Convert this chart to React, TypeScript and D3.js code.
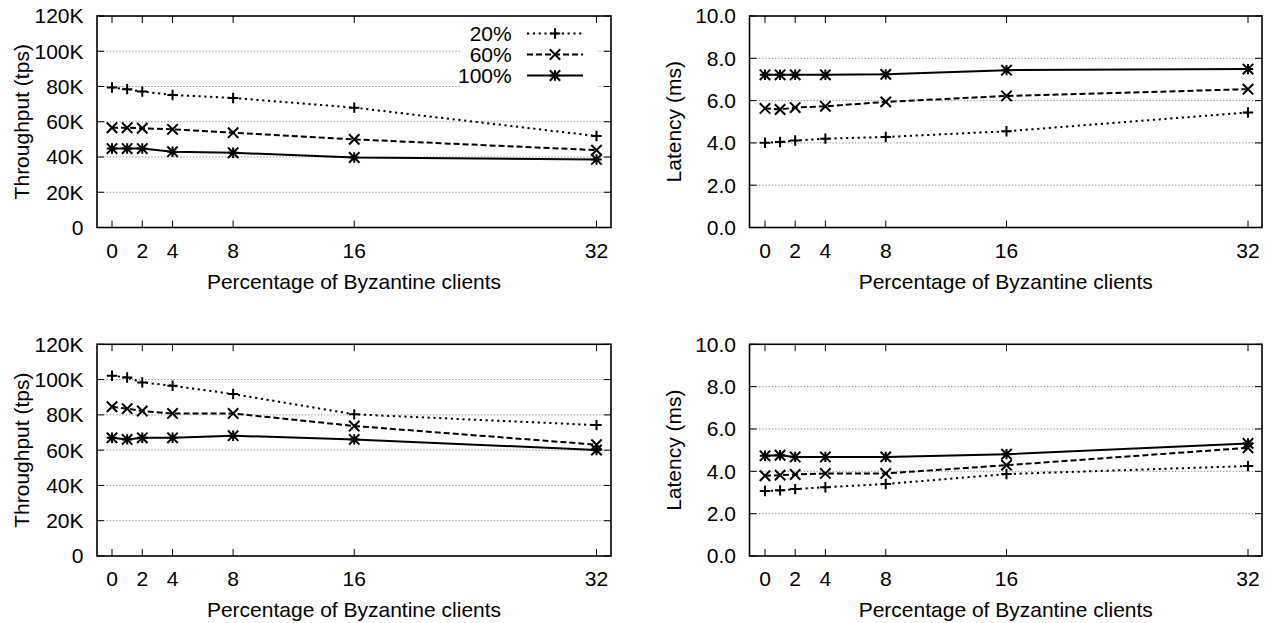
import React from "react";
import * as d3 from "d3";

// x values: percentage of Byzantine clients
const xValues = [0, 1, 2, 4, 8, 16, 32];
const xTicks = [0, 2, 4, 8, 16, 32];
const seriesNames = ["20%", "60%", "100%"];

// throughput ticks / latency ticks
const tputTicks = [0, 20000, 40000, 60000, 80000, 100000, 120000];
const tputTickLabels = ["0", "20K", "40K", "60K", "80K", "100K", "120K"];
const latTicks = [0, 2, 4, 6, 8, 10];
const latTickLabels = ["0.0", "2.0", "4.0", "6.0", "8.0", "10.0"];

// top row
const tputA20 = [79400, 78500, 77100, 75200, 73500, 68000, 51900];
const tputA60 = [56600, 56600, 56300, 55700, 53800, 50000, 43900];
const tputA100 = [44800, 44800, 44800, 43000, 42400, 39700, 38600];
const latA20 = [4.01, 4.04, 4.11, 4.2, 4.28, 4.55, 5.44];
const latA60 = [5.63, 5.58, 5.67, 5.73, 5.94, 6.22, 6.54];
const latA100 = [7.22, 7.22, 7.22, 7.22, 7.24, 7.44, 7.49];

// bottom row
const tputB20 = [102200, 101200, 98400, 96500, 91800, 80300, 74200];
const tputB60 = [84600, 83500, 82200, 80800, 80800, 73700, 63100];
const tputB100 = [67000, 66100, 67000, 67000, 68200, 66100, 60100];
const latB20 = [3.07, 3.1, 3.16, 3.25, 3.4, 3.87, 4.25];
const latB60 = [3.79, 3.82, 3.85, 3.9, 3.9, 4.29, 5.11];
const latB100 = [4.73, 4.76, 4.68, 4.68, 4.68, 4.81, 5.32];

const FONT = "'Liberation Sans', Arial, Helvetica, sans-serif";
const FS = 21;

const dashes = ["2.2,3.6", "6,3", null];
const markerKinds = ["plus", "cross", "star"];

function markerPath(kind: string, s: number) {
  const plus = `M${-s},0H${s}M0,${-s}V${s}`;
  const cross = `M${-s},${-s}L${s},${s}M${-s},${s}L${s},${-s}`;
  if (kind === "plus") return plus;
  if (kind === "cross") return cross;
  return plus + cross;
}

type PanelProps = {
  left: number; right: number; top: number; bottom: number;
  xr: [number, number];
  yMax: number; ticks: number[]; tickLabels: string[];
  yTitle: string; series: number[][]; legend?: boolean;
};

function Panel(p: PanelProps) {
  const x = d3.scaleLinear().domain([0, 32]).range(p.xr);
  const y = d3.scaleLinear().domain([0, p.yMax]).range([p.bottom, p.top]);
  const line = d3.line<number>().x((_, i) => x(xValues[i])).y(d => y(d));
  const tl = 7;
  const midY = (p.top + p.bottom) / 2;
  const midX = (p.left + p.right) / 2;

  // legend placement
  const lgTextX = p.left + 414.7;
  const lgX0 = p.left + 430, lgX1 = p.left + 486;
  const lgRows = [p.top + 17.5, p.top + 38.5, p.top + 59.5];

  return (
    <g>
      {/* grid */}
      {p.ticks.slice(1, -1).map(t => (
        <line key={"g" + t} x1={p.left} x2={p.right} y1={y(t)} y2={y(t)}
          stroke="#666" strokeWidth={0.8} strokeDasharray="1.2,2" />
      ))}
      {p.legend && (
        <rect x={p.left + 365} y={p.top + 1} width={135} height={74} fill="#fff" />
      )}
      {/* ticks */}
      {xTicks.map(t => (
        <g key={"xt" + t} stroke="#000" strokeWidth={1}>
          <line x1={x(t)} x2={x(t)} y1={p.bottom} y2={p.bottom - tl} />
          <line x1={x(t)} x2={x(t)} y1={p.top} y2={p.top + tl} />
        </g>
      ))}
      {p.ticks.map(t => (
        <g key={"yt" + t} stroke="#000" strokeWidth={1}>
          <line x1={p.left} x2={p.left + tl} y1={y(t)} y2={y(t)} />
          <line x1={p.right} x2={p.right - tl} y1={y(t)} y2={y(t)} />
        </g>
      ))}
      {/* frame */}
      <rect x={p.left} y={p.top} width={p.right - p.left} height={p.bottom - p.top}
        fill="none" stroke="#000" strokeWidth={1.6} />
      {/* tick labels */}
      {xTicks.map(t => (
        <text key={"xl" + t} x={x(t)} y={p.bottom + 23} dy="0.35em" textAnchor="middle"
          fontFamily={FONT} fontSize={FS}>{t}</text>
      ))}
      {p.ticks.map((t, i) => (
        <text key={"yl" + t} x={p.left - 13.5} y={y(t)} dy="0.35em" textAnchor="end"
          fontFamily={FONT} fontSize={FS}>{p.tickLabels[i]}</text>
      ))}
      <text x={midX} y={p.bottom + 54} dy="0.35em" textAnchor="middle"
        fontFamily={FONT} fontSize={FS}>Percentage of Byzantine clients</text>
      <text transform={`translate(${p.left - 75.5},${midY}) rotate(-90)`} dy="0.35em"
        textAnchor="middle" fontFamily={FONT} fontSize={FS}>{p.yTitle}</text>
      {/* series */}
      {p.series.map((s, si) => (
        <g key={"s" + si}>
          <path d={line(s) || ""} fill="none" stroke="#000" strokeWidth={2}
            strokeDasharray={dashes[si] || undefined} />
          {s.map((v, i) => (
            <path key={i} transform={`translate(${x(xValues[i])},${y(v)})`}
              d={markerPath(markerKinds[si], 5.2)} stroke="#000" strokeWidth={2} fill="none" />
          ))}
        </g>
      ))}
      {p.legend && seriesNames.map((n, si) => (
        <g key={"lg" + si}>
          <text x={lgTextX} y={lgRows[si]} dy="0.35em" textAnchor="end"
            fontFamily={FONT} fontSize={FS}>{n}</text>
          <line x1={lgX0} x2={lgX1} y1={lgRows[si]} y2={lgRows[si]} stroke="#000"
            strokeWidth={2} strokeDasharray={dashes[si] || undefined} />
          <path transform={`translate(${(lgX0 + lgX1) / 2},${lgRows[si]})`}
            d={markerPath(markerKinds[si], 5.2)} stroke="#000" strokeWidth={2} fill="none" />
        </g>
      ))}
    </g>
  );
}

export default function App() {
  const L = { left: 97, right: 611, xr: [112, 596.5] as [number, number] };
  const R = { left: 749.5, right: 1262, xr: [765, 1248] as [number, number] };
  const top = { top: 16, bottom: 227.5 };
  const bot = { top: 344.3, bottom: 556 };
  return (
    <div style={{ position: "absolute", left: 0, top: 0 }}>
      <svg width={1270} height={623} style={{ display: "block", background: "#fff" }}>
        <Panel {...L} {...top} yMax={120000} ticks={tputTicks} tickLabels={tputTickLabels}
          yTitle="Throughput (tps)" series={[tputA20, tputA60, tputA100]} legend />
        <Panel {...R} {...top} yMax={10} ticks={latTicks} tickLabels={latTickLabels}
          yTitle="Latency (ms)" series={[latA20, latA60, latA100]} />
        <Panel {...L} {...bot} yMax={120000} ticks={tputTicks} tickLabels={tputTickLabels}
          yTitle="Throughput (tps)" series={[tputB20, tputB60, tputB100]} />
        <Panel {...R} {...bot} yMax={10} ticks={latTicks} tickLabels={latTickLabels}
          yTitle="Latency (ms)" series={[latB20, latB60, latB100]} />
      </svg>
    </div>
  );
}
